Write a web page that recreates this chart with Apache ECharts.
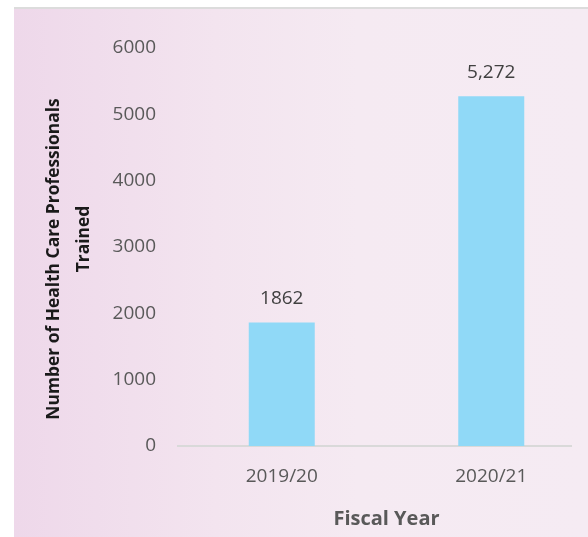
<!DOCTYPE html>
<html>
<head>
<meta charset="utf-8">
<script src="https://cdn.jsdelivr.net/npm/echarts@6/dist/echarts.min.js"></script>
<style>
  html, body { margin: 0; padding: 0; background: #ffffff; }
  #bg { position: absolute; left: 14px; top: 7px; width: 574px; height: 530px;
        border-top: 2px solid #dcdcdc;
        background: linear-gradient(to right, #eed8ea 0%, #f3e4ef 35%, #f5eaf2 60%, #f5ebf3 100%); }
  #chart { position: absolute; left: 0; top: 0; width: 588px; height: 537px; }
</style>
</head>
<body>
<div id="bg"></div>
<div id="chart"></div>
<script>
const categories = ['2019/20', '2020/21'];
const values = [1862, 5272];
const valueLabels = ['1862', '5,272'];
const yTicks = [0, 1000, 2000, 3000, 4000, 5000, 6000];
const yAxisTitleLines = ['Number of Health Care Professionals', 'Trained'];
const xAxisTitle = 'Fiscal Year';

const chart = echarts.init(document.getElementById('chart'), null, { renderer: 'canvas' });
const font = '"Open Sans", sans-serif';
const titleStyle = { color: '#1a1a1a', fontSize: 17.4, fontWeight: 'bold', fontFamily: font, lineHeight: 30 };
const option = {
  backgroundColor: 'transparent',
  animation: false,
  grid: { left: 177, top: 48, width: 419, bottom: 91, containLabel: false, outerBoundsMode: 'none' },
  xAxis: {
    type: 'category',
    data: categories,
    axisLine: { show: false },
    axisTick: { show: false },
    axisLabel: { color: '#595959', fontSize: 19, fontFamily: font, margin: 21 },
    name: xAxisTitle,
    nameLocation: 'middle',
    nameGap: 63,
    nameTextStyle: { color: '#595959', fontSize: 20, fontWeight: 'bold', fontFamily: font }
  },
  yAxis: {
    type: 'value',
    min: yTicks[0],
    max: yTicks[yTicks.length - 1],
    interval: yTicks[1] - yTicks[0],
    splitLine: { show: false },
    axisLine: { show: false },
    axisTick: { show: false },
    axisLabel: { color: '#595959', fontSize: 19, fontFamily: font, margin: 21, formatter: v => String(v) },
    name: '{a|' + yAxisTitleLines[0] + '}\n{b|' + yAxisTitleLines[1] + '}',
    nameLocation: 'middle',
    nameRotate: 90,
    nameGap: 78,
    nameTextStyle: Object.assign({}, titleStyle, {
      align: 'center',
      padding: [0, 24, 0, 0],
      rich: {
        a: Object.assign({}, titleStyle),
        b: Object.assign({}, titleStyle, { padding: [0, 0, 0, 40] })
      }
    })
  },
  series: [{
    type: 'bar',
    data: values,
    barWidth: 66,
    itemStyle: { color: '#90d9f7' },
    label: {
      show: true,
      position: 'top',
      distance: 14,
      color: '#404040',
      fontSize: 19,
      fontFamily: font,
      formatter: p => valueLabels[p.dataIndex]
    }
  }],
  graphic: [{
    type: 'line',
    shape: { x1: 177, y1: 446, x2: 572, y2: 446 },
    style: { stroke: '#d9d9d9', lineWidth: 2 },
    z: 1
  }]
};
chart.setOption(option);
</script>
</body>
</html>
